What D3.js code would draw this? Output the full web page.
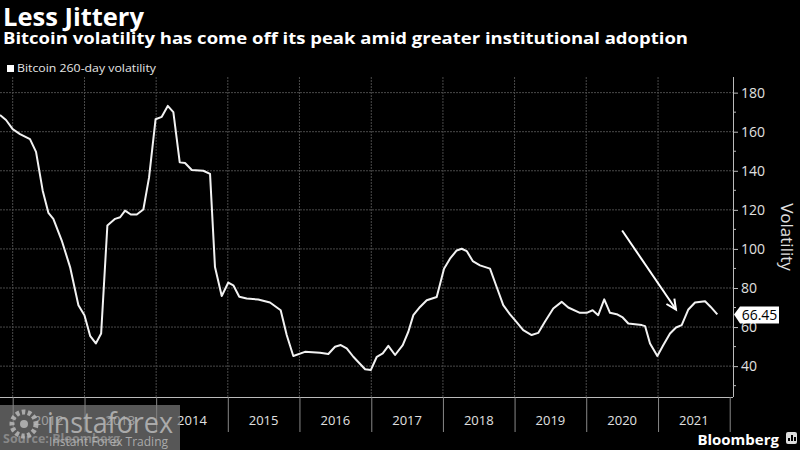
<!DOCTYPE html>
<html>
<head>
<meta charset="utf-8">
<script src="https://cdn.jsdelivr.net/npm/d3@7"></script>
<style>
  html, body { margin: 0; padding: 0; background: #000; }
  svg { display: block; }
  text { font-family: "Open Sans", "Noto Sans", sans-serif; }
</style>
</head>
<body>
<svg id="chart" width="800" height="450"></svg>
<script>
// ---- data (decimal year, volatility) ----
const yearPos = [2011.823,2011.907,2012.000,2012.102,2012.241,2012.325,2012.418,2012.497,2012.566,2012.683,2012.799,2012.915,2012.999,2013.078,2013.158,2013.232,2013.319,2013.427,2013.497,2013.566,2013.646,2013.729,2013.821,2013.901,2013.992,2014.078,2014.162,2014.240,2014.329,2014.403,2014.497,2014.658,2014.752,2014.821,2014.915,2015.007,2015.077,2015.160,2015.264,2015.425,2015.589,2015.738,2015.822,2015.914,2016.077,2016.286,2016.402,2016.495,2016.575,2016.658,2016.750,2016.914,2016.993,2017.077,2017.160,2017.238,2017.332,2017.439,2017.517,2017.587,2017.680,2017.774,2017.913,2018.015,2018.098,2018.192,2018.262,2018.332,2018.416,2018.517,2018.657,2018.750,2018.842,2018.936,2019.005,2019.121,2019.238,2019.330,2019.423,2019.540,2019.657,2019.749,2019.912,2020.006,2020.089,2020.167,2020.251,2020.331,2020.424,2020.508,2020.586,2020.773,2020.819,2020.888,2020.990,2021.074,2021.167,2021.251,2021.330,2021.423,2021.516,2021.656,2021.735,2021.827];
const volatility = [168.6,166.0,161.3,158.8,156.2,149.7,129.8,118.5,115.4,104.3,90.7,71.2,66.1,55.5,51.6,56.7,112.0,115.4,116.2,119.6,117.6,117.6,120.2,136.6,166.4,167.6,173.2,170.0,144.3,144.0,140.4,140.0,138.4,90.7,75.9,82.8,81.4,75.5,74.6,74.1,72.6,68.6,55.9,45.2,47.3,46.8,46.2,49.9,50.8,49.1,44.8,38.4,38.0,44.8,46.5,50.4,45.7,50.8,57.6,66.1,70.3,73.7,75.4,89.9,95.0,99.2,100.1,98.9,93.8,91.6,89.9,80.5,71.2,66.5,63.5,58.4,55.9,57.0,62.7,69.5,72.9,70.0,67.3,67.3,68.6,66.1,74.2,67.3,66.6,64.9,61.8,61.0,60.5,51.6,45.2,50.8,56.7,59.8,61.0,69.0,72.6,73.2,70.3,66.45];
const yearLabels = ["2012","2013","2014","2015","2016","2017","2018","2019","2020","2021"];
const yTicks = [40,60,80,100,120,140,160,180];
const lastValue = "66.45";
const arrowFrom = [2020.50, 109.4];
const arrowTo = [2021.25, 69.0];

const title = "Less Jittery";
const subtitle = "Bitcoin volatility has come off its peak amid greater institutional adoption";
const legendLabel = "Bitcoin 260-day volatility";
const yTitle = "Volatility";

(function () {
function toDate(v) {
  const yr = Math.floor(v);
  const start = new Date(yr, 0, 1), end = new Date(yr + 1, 0, 1);
  return new Date(+start + (v - yr) * (end - start));
}

const svg = d3.select("#chart");
const pL = 0, pR = 733, pT = 77, pB = 397;

const x = d3.scaleTime()
  .domain([toDate(2011.823), toDate(2022.046)])
  .range([pL, pR]);
const y = d3.scaleLinear().domain([24.2, 188]).range([pB, pT]);

svg.append("rect").attr("width", 800).attr("height", 450).attr("fill", "#000");

// titles
svg.append("text").attr("x", 3).attr("y", 26).attr("fill", "#fff")
  .attr("font-size", 25.5).attr("font-weight", 700).text(title);
svg.append("text").attr("x", 3).attr("y", 44).attr("fill", "#fff")
  .attr("font-size", 16.5).attr("font-weight", 700)
  .attr("textLength", 685).attr("lengthAdjust", "spacingAndGlyphs").text(subtitle);
svg.append("rect").attr("x", 7).attr("y", 65).attr("width", 7).attr("height", 7).attr("fill", "#fff");
svg.append("text").attr("x", 17).attr("y", 72).attr("fill", "#e6e6e6")
  .attr("font-size", 11.3).attr("textLength", 139).attr("lengthAdjust", "spacingAndGlyphs")
  .text(legendLabel);

// grid
const yearTicks = d3.range(2012, 2023).map(v => new Date(v, 0, 1));
svg.append("g").selectAll("line").data(yTicks).join("line")
  .attr("x1", pL).attr("x2", pR)
  .attr("y1", d => y(d)).attr("y2", d => y(d))
  .attr("stroke", "#4a4a4a").attr("stroke-width", 1).attr("stroke-dasharray", "2,1");
svg.append("g").selectAll("line").data(yearTicks.slice(0, -1)).join("line")
  .attr("x1", d => x(d)).attr("x2", d => x(d))
  .attr("y1", pT).attr("y2", pB)
  .attr("stroke", "#4a4a4a").attr("stroke-width", 1).attr("stroke-dasharray", "2,1");

// x axis
const xAxis = svg.append("g").attr("transform", `translate(0,${pB})`)
  .call(d3.axisBottom(x).tickValues(yearTicks).tickSize(35).tickFormat(""));
xAxis.select(".domain").attr("stroke", "#bbb").attr("d", `M${pL},0.5H${pR}`);
xAxis.selectAll(".tick line").attr("stroke", "#888");
svg.append("g").selectAll("text").data(yearLabels).join("text")
  .attr("x", d => x(toDate(+d + 0.5)))
  .attr("y", 425).attr("text-anchor", "middle")
  .attr("fill", "#e0e0e0").attr("font-size", 13).text(d => d);

// y axis (right)
const yAxis = svg.append("g").attr("transform", `translate(${pR},0)`)
  .call(d3.axisRight(y).tickValues(yTicks).tickSize(5).tickPadding(3));
yAxis.select(".domain").attr("stroke", "#bbb").attr("d", `M0.5,${pT}V${pB}`);
yAxis.selectAll(".tick line").attr("stroke", "#bbb");
yAxis.selectAll(".tick text").attr("fill", "#e0e0e0").attr("font-size", 14)
  .attr("font-family", "Open Sans, sans-serif");
svg.append("g").selectAll("line").data(d3.range(30, 190, 20)).join("line")
  .attr("x1", pR).attr("x2", pR + 3)
  .attr("y1", d => y(d)).attr("y2", d => y(d)).attr("stroke", "#bbb");

svg.append("text")
  .attr("transform", `translate(781,237) rotate(90)`)
  .attr("text-anchor", "middle").attr("fill", "#e0e0e0").attr("font-size", 17)
  .text(yTitle);

// line
const pts = yearPos.map((t, i) => [toDate(t), volatility[i]]);
svg.append("path").datum(pts)
  .attr("fill", "none").attr("stroke", "#f2f2f2").attr("stroke-width", 2)
  .attr("stroke-linejoin", "round")
  .attr("d", d3.line().x(d => x(d[0])).y(d => y(d[1])));

// last value label
const ly = y(volatility[volatility.length - 1]);
svg.append("path")
  .attr("d", `M734,${ly} L740,${ly - 8} H779 V${ly + 9} H740 Z`)
  .attr("fill", "#fff");
svg.append("text").attr("x", 759.5).attr("y", ly + 5.5).attr("text-anchor", "middle")
  .attr("fill", "#000").attr("font-size", 14).text(lastValue);

// arrow annotation
const ax1 = x(toDate(arrowFrom[0])), ay1 = y(arrowFrom[1]);
const ax2 = x(toDate(arrowTo[0])), ay2 = y(arrowTo[1]);
svg.append("line").attr("x1", ax1).attr("y1", ay1).attr("x2", ax2).attr("y2", ay2)
  .attr("stroke", "#fff").attr("stroke-width", 2);
const ang = Math.atan2(ay2 - ay1, ax2 - ax1);
const hl = 11;
const h1 = [ax2 - hl * Math.cos(ang - 0.45), ay2 - hl * Math.sin(ang - 0.45)];
const h2 = [ax2 - hl * Math.cos(ang + 0.45), ay2 - hl * Math.sin(ang + 0.45)];
svg.append("path").attr("d", `M${h1[0]},${h1[1]} L${ax2},${ay2} L${h2[0]},${h2[1]}`)
  .attr("fill", "none").attr("stroke", "#fff").attr("stroke-width", 2);

// source + branding
svg.append("text").attr("x", 3).attr("y", 443).attr("fill", "#999").attr("font-size", 12.5)
  .attr("font-weight", 700).text("Source: Bloomberg");
svg.append("text").attr("x", 779).attr("y", 445).attr("text-anchor", "end")
  .attr("fill", "#fff").attr("font-size", 15).attr("font-weight", 700).text("Bloomberg");
svg.append("rect").attr("x", 786).attr("y", 432).attr("width", 11).attr("height", 12)
  .attr("rx", 2).attr("fill", "#ddd");
svg.append("g").selectAll("rect").data([3, 6, 4]).join("rect")
  .attr("x", (d, i) => 788 + i * 3).attr("y", d => 441 - d).attr("width", 2).attr("height", d => d)
  .attr("fill", "#000");

// watermark overlay
const wm = svg.append("g");
wm.append("rect").attr("x", 0).attr("y", 405).attr("width", 180).attr("height", 45)
  .attr("fill", "#808080").attr("opacity", 0.68);
wm.append("circle").attr("cx", 24).attr("cy", 424).attr("r", 12)
  .attr("fill", "none").attr("stroke", "#b8b8b8").attr("stroke-width", 5)
  .attr("stroke-dasharray", "3.5,2.5").attr("opacity", 0.85);
wm.append("circle").attr("cx", 24).attr("cy", 424).attr("r", 4)
  .attr("fill", "#b8b8b8").attr("opacity", 0.85);
wm.append("text").attr("x", 47).attr("y", 433).attr("fill", "#b4b4b4").attr("font-size", 30)
  .attr("opacity", 0.9).attr("textLength", 126).attr("lengthAdjust", "spacingAndGlyphs")
  .text("instaforex");
wm.append("text").attr("x", 49).attr("y", 446).attr("fill", "#b4b4b4").attr("font-size", 12)
  .attr("opacity", 0.9).text("Instant Forex Trading");
})();
</script>
</body>
</html>
